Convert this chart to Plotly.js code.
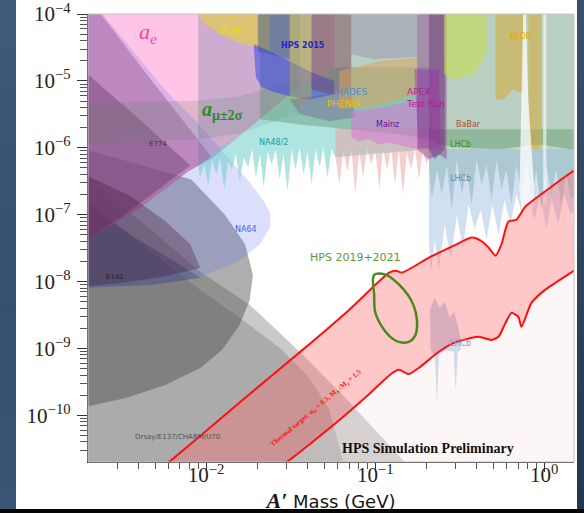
<!DOCTYPE html>
<html>
<head>
<meta charset="utf-8">
<script src="https://cdn.plot.ly/plotly-3.0.1.min.js"></script>
<style>
  html, body { margin:0; padding:0; width:584px; height:513px; overflow:hidden; background:#050505; }
  #leftStrip { position:absolute; left:0; top:0; width:16px; height:509px; background:linear-gradient(180deg,#3f5a7a,#34506e 60%,#3a5675); }
  #rightStrip { position:absolute; left:577px; top:0; width:7px; height:509px; background:linear-gradient(180deg,#3a5070,#24374e); }
  #panel { position:absolute; left:16px; top:0; width:561px; height:509px; background:#ffffff; }
  #chart { position:absolute; left:0; top:0; width:584px; height:513px; }
</style>
</head>
<body>
<div id="leftStrip"></div>
<div id="rightStrip"></div>
<div id="panel"></div>
<div id="chart"></div>
<script>
// ---------------- axis ranges / ticks ----------------
const massRange = [0.002, 1.5];
const epsRange = [2e-11, 1.003e-4];
const xTickVals = [0.01, 0.1, 1];
const xTickText = ['10<sup>−2</sup>', '10<sup>−1</sup>', '10<sup>0</sup>'];
const yTickVals = [1e-10, 1e-9, 1e-8, 1e-7, 1e-6, 1e-5, 1e-4];
const yTickText = ['10<sup>−10</sup>', '10<sup>−9</sup>', '10<sup>−8</sup>', '10<sup>−7</sup>', '10<sup>−6</sup>', '10<sup>−5</sup>', '10<sup>−4</sup>'];

// ---------------- exclusion regions (mass GeV, eps^2) ----------------
const bdLight_m = [1.9e-3, 4.69e-3, 9.22e-3, 1.81e-2, 3.57e-2, 7.03e-2, 0.148, 0.165, 1.9e-3];
const bdLight_e = [4.0e-7, 6.0e-8, 1.40e-8, 4.5e-9, 8.9e-10, 1.58e-10, 2.06e-11, 1.5e-11, 1.5e-11];

const bdMed_m = [1.9e-3, 4.69e-3, 9.22e-3, 1.58e-2, 2.72e-2, 4.09e-2, 5.36e-2, 6.67e-2, 1.9e-3];
const bdMed_e = [1.68e-7, 2.8e-8, 7.5e-9, 2.87e-9, 1.02e-9, 3.6e-10, 1.2e-10, 1.5e-11, 1.5e-11];

const e137_m = [1.9e-3, 4.09e-3, 8.17e-3, 1.29e-2, 1.70e-2, 1.89e-2, 1.81e-2, 1.58e-2, 1.24e-2, 9.22e-3, 5.74e-3, 3.34e-3, 1.9e-3];
const e137_e = [9.5e-7, 5.6e-7, 3.36e-7, 1.0e-7, 3.6e-8, 1.26e-8, 5.3e-9, 2.25e-9, 9.5e-10, 5.1e-10, 2.84e-10, 1.81e-10, 1.33e-10];

const e141_m = [1.9e-3, 3.57e-3, 6.57e-3, 9.22e-3, 4.69e-3, 1.9e-3];
const e141_e = [1.68e-7, 5.0e-8, 1.98e-8, 1.14e-8, 8.9e-9, 8.1e-9];

const e141core_m = [1.9e-3, 3.57e-3, 5.74e-3, 8.05e-3, 9.22e-3, 5.74e-3, 3.12e-3, 1.9e-3];
const e141core_e = [4.0e-7, 1.9e-7, 8.0e-8, 3.6e-8, 1.6e-8, 1.2e-8, 9.5e-9, 8.5e-9];

const ae_m = [1.9e-3, 5.74e-2, 5.74e-2, 3.12e-2, 1.81e-2, 1.06e-2, 7.83e-3, 4.09e-3, 1.9e-3];
const ae_e = [1.2e-4, 1.2e-4, 1.6e-5, 6.3e-6, 2.0e-6, 6.7e-7, 4.43e-7, 1.28e-7, 3.95e-8];

const na64_m = [2.3e-3, 5.74e-3, 8.97e-3, 1.29e-2, 1.81e-2, 2.22e-2, 2.41e-2, 2.38e-2, 2.08e-2, 1.54e-2, 9.22e-3, 4.69e-3, 1.9e-3, 1.9e-3];
const na64_e = [1.2e-4, 7.26e-6, 2.32e-6, 8.0e-7, 3.03e-7, 1.52e-7, 1.0e-7, 6.4e-8, 3.6e-8, 1.98e-8, 1.18e-8, 8.9e-9, 8.1e-9, 1.2e-4];

const e774_m = [1.9e-3, 2.25e-3, 4.69e-3, 8.97e-3, 1.08e-2, 7.83e-3, 4.09e-3, 1.9e-3];
const e774_e = [1.2e-4, 1.2e-4, 1.06e-5, 1.3e-6, 7.2e-7, 4.43e-7, 1.28e-7, 3.95e-8];

const e774in_m = [1.9e-3, 4.09e-3, 8.05e-3, 5.36e-3, 3.12e-3, 1.9e-3];
const e774in_e = [1.4e-5, 2.58e-6, 5.45e-7, 2.55e-7, 9.05e-8, 3.95e-8];

const amu_m = [1.9e-3, 9.22e-3, 1.58e-2, 3.57e-2, 3.57e-2, 1.58e-2, 9.22e-3, 1.9e-3];
const amu_e = [4.6e-6, 5.1e-6, 5.9e-6, 1.06e-5, 3.4e-6, 1.64e-6, 1.34e-6, 1.16e-6];

const mauve_m = [8.97e-3, 3.57e-2, 3.57e-2, 3.12e-2, 1.81e-2, 1.06e-2, 8.97e-3];
const mauve_e = [1.2e-4, 1.2e-4, 7.8e-6, 6.3e-6, 2.0e-6, 6.7e-7, 5.45e-7];

const na48_m = [8.97e-3, 1.81e-2, 3.12e-2, 5.74e-2, 0.208, 0.208,
  5.82e-2, 5.51e-2, 5.22e-2, 4.94e-2, 4.69e-2, 4.44e-2, 4.2e-2, 3.98e-2, 3.77e-2, 3.57e-2, 3.38e-2, 3.2e-2,
  3.03e-2, 2.87e-2, 2.72e-2, 2.58e-2, 2.44e-2, 2.31e-2, 2.19e-2, 2.08e-2, 1.97e-2, 1.87e-2, 1.77e-2, 1.67e-2,
  1.58e-2, 1.5e-2, 1.42e-2, 1.35e-2, 1.28e-2, 1.21e-2, 1.15e-2, 1.08e-2, 1.03e-2, 9.73e-3, 9.22e-3, 8.97e-3];
const na48_e = [5.45e-7, 2.0e-6, 6.3e-6, 1.6e-5, 1.6e-5, 9.5e-7,
  7.2e-7, 9.5e-7, 3.6e-7, 1.01e-6, 5.1e-7, 9.5e-7, 2.83e-7, 8.8e-7, 4.0e-7, 1.01e-6, 4.7e-7, 9.5e-7,
  2.22e-7, 8.0e-7, 3.36e-7, 9.5e-7, 5.6e-7, 8.8e-7, 2.55e-7, 8.0e-7, 3.6e-7, 9.5e-7, 5.1e-7, 7.2e-7,
  3.13e-7, 8.0e-7, 4.7e-7, 6.25e-7, 2.38e-7, 7.2e-7, 4.0e-7, 6.7e-7, 2.83e-7, 5.6e-7, 3.6e-7, 5.1e-7];

const mainzLow_m = [5.82e-2, 0.213, 0.213, 0.202, 0.191, 0.181, 0.172, 0.163, 0.154, 0.146, 0.138, 0.131, 0.124, 0.118,
  0.111, 0.106, 0.1, 9.46e-2, 8.97e-2, 8.49e-2, 8.05e-2, 7.62e-2, 7.22e-2, 6.84e-2, 6.48e-2, 6.14e-2, 5.82e-2];
const mainzLow_e = [2.02e-6, 2.02e-6, 9.5e-7, 5.6e-7, 8.8e-7, 3.36e-7, 1.01e-6, 4.7e-7, 8.8e-7, 2.0e-7, 9.5e-7, 2.83e-7, 1.01e-6, 4.7e-7,
  9.5e-7, 2.38e-7, 9.5e-7, 5.6e-7, 1.01e-6, 3.6e-7, 8.8e-7, 2.0e-7, 1.01e-6, 4.43e-7, 9.5e-7, 2.83e-7, 7.2e-7];

const babar_m = [2.08e-2, 1.58, 1.58, 1.44, 0.922, 0.536, 0.312, 0.238, 0.208, 0.138, 7.03e-2, 3.57e-2, 2.08e-2];
const babar_e = [1.2e-4, 1.2e-4, 9.5e-7, 9.5e-7, 1.12e-6, 9.5e-7, 1.01e-6, 1.12e-6, 1.34e-6, 1.59e-6, 1.89e-6, 2.24e-6, 2.67e-6];

const lhcbG_m = [0.208, 1.58, 1.58, 1.44, 1.35, 1.26, 1.18, 1.1, 1.03, 0.96, 0.897, 0.84, 0.784, 0.733, 0.684, 0.64, 0.597,
  0.558, 0.523, 0.488, 0.456, 0.426, 0.398, 0.372, 0.348, 0.325, 0.304, 0.284, 0.265, 0.248, 0.232, 0.216, 0.208];
const lhcbG_e = [1.89e-6, 1.89e-6, 2.38e-7, 1.68e-7, 4.0e-7, 1.42e-7, 4.7e-7, 2.0e-7, 5.6e-7, 1.19e-7, 4.7e-7, 1.68e-7, 6.7e-7, 2.0e-7, 5.6e-7, 1.42e-7, 4.7e-7,
  2.38e-7, 6.7e-7, 1.68e-7, 5.6e-7, 2.83e-7, 6.7e-7, 1.42e-7, 4.7e-7, 2.0e-7, 6.7e-7, 1.19e-7, 5.6e-7, 2.0e-7, 4.7e-7, 1.68e-7, 5.6e-7];

const lhcbB_m = [0.208, 1.58, 1.58, 1.44, 1.31, 1.21, 1.11, 1.03, 0.947, 0.873, 0.805, 0.743, 0.684, 0.631, 0.582, 0.536,
  0.494, 0.456, 0.421, 0.387, 0.357, 0.33, 0.304, 0.28, 0.258, 0.238, 0.225, 0.213, 0.208];
const lhcbB_e = [9.5e-7, 9.5e-7, 1.42e-7, 1.0e-7, 2.0e-7, 7.1e-8, 1.68e-7, 6.0e-8, 2.0e-7, 8.4e-8, 1.68e-7, 1.0e-7, 2.0e-7, 7.1e-8, 1.68e-7, 5.0e-8,
  1.42e-7, 4.2e-8, 1.19e-7, 6.0e-8, 1.42e-7, 3.0e-8, 1.0e-7, 2.12e-8, 7.1e-8, 1.5e-8, 4.2e-8, 1.26e-8, 4.2e-8];

const lhcbD_m = [0.211, 0.225, 0.241, 0.258, 0.276, 0.292, 0.308, 0.321, 0.321, 0.308, 0.299, 0.292, 0.262, 0.238, 0.232, 0.225, 0.213];
const lhcbD_e = [3.8e-9, 5.7e-9, 4.05e-9, 4.97e-9, 2.87e-9, 3.5e-9, 2.25e-9, 1.34e-9, 9.5e-10, 8.9e-10, 2.23e-10, 8.9e-10, 9.5e-10, 8.0e-10, 1.58e-10, 8.0e-10, 9.5e-10];

const kloeL_m = [8.39e-3, 2.38e-2, 2.38e-2, 1.94e-2, 1.54e-2, 1.21e-2, 9.87e-3];
const kloeL_e = [1.2e-4, 1.2e-4, 2.51e-5, 3.2e-5, 3.8e-5, 5.0e-5, 7.1e-5];

const steel_m = [2.02e-2, 3.12e-2, 3.12e-2, 2.02e-2];
const steel_e = [1.2e-4, 1.2e-4, 2.11e-5, 2.79e-5];

const hps15_m = [1.91e-2, 2.38e-2, 3.12e-2, 4.09e-2, 5.74e-2, 5.74e-2, 4.09e-2, 3.12e-2, 2.55e-2, 2.13e-2, 1.97e-2];
const hps15_e = [3.55e-5, 2.79e-5, 1.97e-5, 1.4e-5, 9.9e-6, 6.3e-6, 5.3e-6, 5.9e-6, 6.8e-6, 8.05e-6, 1.14e-5];

const olive_m = [3.12e-2, 4.2e-2, 4.2e-2, 3.57e-2, 3.12e-2];
const olive_e = [1.2e-4, 1.2e-4, 5.3e-6, 4.5e-6, 5.3e-6];

const brown_m = [4.2e-2, 7.22e-2, 7.22e-2, 5.36e-2, 4.2e-2];
const brown_e = [1.2e-4, 1.2e-4, 7.0e-6, 6.3e-6, 7.5e-6];

const lilac_m = [7.22e-2, 0.177, 0.177, 9.86e-2, 7.22e-2];
const lilac_e = [1.2e-4, 1.2e-4, 2.3e-5, 2.11e-5, 2.51e-5];

const hades_m = [3.12e-2, 7.22e-2, 7.62e-2, 5.36e-2, 3.57e-2];
const hades_e = [5.3e-6, 7.0e-6, 2.86e-6, 2.49e-6, 3.2e-6];

const phenix_m = [6.14e-2, 0.106, 0.177, 0.177, 0.138, 9.22e-2, 6.14e-2];
const phenix_e = [1.4e-5, 1.97e-5, 2.27e-5, 6.3e-6, 5.3e-6, 4.04e-6, 3.8e-6];

const mainz_m = [7.22e-2, 0.113, 0.181, 0.181, 0.158, 0.138, 0.121, 0.106, 9.22e-2, 8.05e-2, 7.22e-2];
const mainz_e = [3.52e-6, 4.04e-6, 5.3e-6, 9.5e-7, 1.01e-6, 1.09e-6, 1.2e-6, 1.12e-6, 1.34e-6, 1.25e-6, 1.43e-6];

const apex_m = [0.177, 0.265, 0.265, 0.238, 0.208, 0.177];
const apex_e = [1.2e-4, 1.2e-4, 6.7e-7, 8.0e-7, 6.7e-7, 9.5e-7];

const apexDark_m = [0.208, 0.258, 0.258, 0.225, 0.208];
const apexDark_e = [1.2e-4, 1.2e-4, 9.5e-7, 6.7e-7, 9.5e-7];

const apexTR_m = [0.17, 0.238, 0.245, 0.181];
const apexTR_e = [1.5e-5, 1.5e-5, 9.5e-7, 1.01e-6];

const ygreen_m = [0.255, 0.456, 0.456, 0.382, 0.292, 0.255];
const ygreen_e = [1.2e-4, 1.2e-4, 2.51e-5, 1.26e-5, 1.06e-5, 1.26e-5];

const kloeR1_m = [0.515, 0.762, 0.762, 0.657, 0.574, 0.515];
const kloeR1_e = [1.2e-4, 1.2e-4, 6.3e-6, 7.5e-6, 5.3e-6, 5.3e-6];
const kloeR2_m = [0.805, 0.96, 0.96, 0.805];
const kloeR2_e = [1.2e-4, 1.2e-4, 9.5e-7, 9.5e-7];

const gap1_m = [0.752, 0.776, 0.805, 0.873, 0.85, 0.743, 0.714, 0.733];
const gap1_e = [1.2e-4, 1.2e-4, 5.3e-6, 2.38e-7, 1.0e-7, 1.0e-7, 2.38e-7, 5.3e-6];
const gap2_m = [0.986, 1.03, 1.03, 0.986];
const gap2_e = [1.2e-4, 1.2e-4, 1.42e-7, 1.42e-7];

// thermal target band
const thermUp_m = [5.36e-3, 9.22e-3, 1.81e-2, 3.72e-2, 7.03e-2, 0.121, 0.133, 0.144, 0.208, 0.292, 0.372, 0.421, 0.469, 0.515, 0.558, 0.614, 0.684, 0.773, 1.01, 1.44, 1.63];
const thermUp_e = [1.56e-11, 4.88e-11, 2.08e-10, 9.5e-10, 3.8e-9, 1.36e-8, 1.45e-8, 1.36e-8, 2.28e-8, 3.44e-8, 4.54e-8, 4.09e-8, 3.21e-8, 2.44e-8, 3.6e-8, 7.9e-8, 8.4e-8, 1.32e-7, 2.22e-7, 4.28e-7, 5.26e-7];
const thermLo_m = [2.65e-2, 3.57e-2, 6.14e-2, 9.22e-2, 0.124, 0.138, 0.158, 0.181, 0.238, 0.292, 0.409, 0.488, 0.536, 0.59, 0.64, 0.703, 0.733, 0.84, 1.01, 1.44, 1.63];
const thermLo_e = [1.56e-11, 2.8e-11, 8.5e-11, 2.08e-10, 4.15e-10, 4.8e-10, 4.15e-10, 5.1e-10, 8.9e-10, 1.21e-9, 1.49e-9, 1.34e-9, 1.49e-9, 2.41e-9, 3.4e-9, 2.96e-9, 2.1e-9, 4.8e-9, 7.5e-9, 1.36e-8, 1.67e-8];

// HPS 2019+2021 projected reach
const hps_m = [9.86e-2, 0.116, 0.133, 0.148, 0.163, 0.174, 0.177, 0.172, 0.158, 0.138, 0.121, 0.108, 0.1, 9.86e-2, 9.86e-2];
const hps_e = [1.26e-8, 1.26e-8, 9.9e-9, 7.5e-9, 5.3e-9, 3.4e-9, 2.1e-9, 1.54e-9, 1.25e-9, 1.25e-9, 1.54e-9, 2.25e-9, 3.5e-9, 6.3e-9, 1.26e-8];

// ---------------- build traces ----------------
function poly(name, m, e, color) {
  return { type:'scatter', mode:'lines', name:name, x:m, y:e, fill:'toself', fillcolor:color,
           line:{width:0, color:'rgba(0,0,0,0)'}, hoverinfo:'skip', showlegend:false };
}
const traces = [
  poly('beam dump', bdLight_m, bdLight_e, 'rgba(150,150,150,0.5)'),
  poly('beam dump 2', bdMed_m, bdMed_e, 'rgba(115,115,115,0.35)'),
  poly('E137', e137_m, e137_e, 'rgba(75,75,75,0.45)'),
  poly('E141', e141_m, e141_e, 'rgba(30,30,60,0.3)'),
  poly('a_e', ae_m, ae_e, 'rgba(255,150,210,0.55)'),
  poly('NA64', na64_m, na64_e, 'rgba(90,110,240,0.22)'),
  poly('E774', e774_m, e774_e, 'rgba(120,40,100,0.3)'),
  poly('E774 core', e774in_m, e774in_e, 'rgba(60,20,70,0.28)'),
  poly('E141 core', e141core_m, e141core_e, 'rgba(70,25,55,0.33)'),
  poly('a_mu', amu_m, amu_e, 'rgba(90,130,90,0.2)'),
  poly('overlap', mauve_m, mauve_e, 'rgba(100,120,160,0.32)'),
  poly('NA48/2', na48_m, na48_e, 'rgba(110,205,200,0.55)'),
  poly('A1 low', mainzLow_m, mainzLow_e, 'rgba(235,160,160,0.5)'),
  poly('BaBar', babar_m, babar_e, 'rgba(100,150,120,0.45)'),
  poly('LHCb', lhcbG_m, lhcbG_e, 'rgba(70,140,90,0.35)'),
  poly('LHCb prompt', lhcbB_m, lhcbB_e, 'rgba(150,185,225,0.45)'),
  poly('LHCb displaced', lhcbD_m, lhcbD_e, 'rgba(150,185,225,0.6)'),
  poly('KLOE', kloeL_m, kloeL_e, 'rgba(235,215,40,0.55)'),
  poly('band', steel_m, steel_e, 'rgba(70,90,150,0.5)'),
  poly('HPS 2015', hps15_m, hps15_e, 'rgba(50,60,235,0.5)'),
  poly('band2', olive_m, olive_e, 'rgba(190,180,70,0.45)'),
  poly('band3', brown_m, brown_e, 'rgba(120,60,80,0.45)'),
  poly('band4', lilac_m, lilac_e, 'rgba(150,140,175,0.45)'),
  poly('HADES', hades_m, hades_e, 'rgba(110,80,150,0.35)'),
  poly('PHENIX', phenix_m, phenix_e, 'rgba(225,160,90,0.5)'),
  poly('Mainz', mainz_m, mainz_e, 'rgba(215,120,215,0.55)'),
  poly('APEX', apex_m, apex_e, 'rgba(140,60,140,0.45)'),
  poly('APEX 2', apexDark_m, apexDark_e, 'rgba(90,30,100,0.35)'),
  poly('APEX TR', apexTR_m, apexTR_e, 'rgba(160,40,170,0.4)'),
  poly('band5', ygreen_m, ygreen_e, 'rgba(200,225,60,0.5)'),
  poly('KLOE 2', kloeR1_m, kloeR1_e, 'rgba(215,165,40,0.5)'),
  poly('KLOE 3', kloeR2_m, kloeR2_e, 'rgba(215,165,40,0.5)'),
  poly('gap', gap1_m, gap1_e, 'rgba(255,255,255,0.75)'),
  poly('gap2', gap2_m, gap2_e, 'rgba(255,255,255,0.6)'),
  poly('below', thermLo_m.concat([1.63, 2.65e-2]), thermLo_e.concat([1.5e-11, 1.5e-11]), 'rgba(250,225,225,0.3)'),
  poly('thermal', thermUp_m.concat(thermLo_m.slice().reverse()), thermUp_e.concat(thermLo_e.slice().reverse()), 'rgba(255,110,110,0.38)'),
  { type:'scatter', mode:'lines', x:thermUp_m, y:thermUp_e, line:{color:'#ff1010', width:2, shape:'spline', smoothing:0.6}, hoverinfo:'skip', showlegend:false },
  { type:'scatter', mode:'lines', x:thermLo_m, y:thermLo_e, line:{color:'#ff1010', width:2, shape:'spline', smoothing:0.6}, hoverinfo:'skip', showlegend:false },
  { type:'scatter', mode:'lines', x:hps_m, y:hps_e, line:{color:'#4a8a1c', width:2.5, shape:'spline', smoothing:1}, hoverinfo:'skip', showlegend:false }
];

// minor tick positions (2..9 x 10^n)
const xMinor = [], yMinor = [];
for (let n = -3; n <= 0; n++) for (let k = 2; k <= 9; k++) { const v = k * Math.pow(10, n); if (v > massRange[0] && v < massRange[1]) xMinor.push(v); }
for (let n = -11; n <= -5; n++) for (let k = 2; k <= 9; k++) { const v = k * Math.pow(10, n); if (v > epsRange[0] && v < epsRange[1]) yMinor.push(v); }

function px(x) { return (x - 88) / 486; }
function py(y) { return (462 - y) / 448; }
function lab(text, x, y, color, size, extra) {
  return Object.assign({ text:text, x:px(x), y:py(y), xref:'paper', yref:'paper', showarrow:false,
    font:{family:'DejaVu Sans', size:size, color:color}, xanchor:'center', yanchor:'middle' }, extra || {});
}
const annotations = [
  lab('<i>a</i><sub><i>e</i></sub>', 148, 33, '#ff3aa8', 20, {font:{family:'Liberation Serif', size:22, color:'#ff3aa8'}}),
  lab('KLOE', 232, 32, '#ece000', 8),
  lab('<b>HPS 2015</b>', 303, 46, '#2424c8', 8),
  lab('HADES', 352, 92, '#3a92d8', 9),
  lab('PHENIX', 343, 104, '#e8c400', 9),
  lab('APEX', 418, 92, '#b0208c', 9),
  lab('Test Run', 425, 104, '#b0208c', 9),
  lab('Mainz', 387, 125, '#6a1096', 8),
  lab('BaBar', 468, 124, '#b04a2a', 8),
  lab('LHCb', 460, 144, '#1e9a1e', 8),
  lab('LHCb', 460, 178, '#5a86c4', 8),
  lab('LHCb', 460, 343, '#7a98d4', 8),
  lab('KLOE', 520, 37, '#e8a400', 8),
  lab('<b><i>a</i><sub>μ±2σ</sub></b>', 222, 111, '#2a8a2a', 18, {font:{family:'Liberation Serif', size:20, color:'#2a8a2a'}}),
  lab('NA48/2', 273, 142, '#14a0a0', 8),
  lab('E774', 158, 144, '#333333', 7),
  lab('NA64', 246, 230, '#4464e4', 8),
  lab('E141', 115, 277, '#222222', 7),
  lab('Orsay/E137/CHARM/U70', 177, 437, '#505050', 7),
  lab('HPS 2019+2021', 355, 257, '#5a9a3a', 11),
  lab('<b>HPS Simulation Preliminary</b>', 428, 448, '#111111', 13, {font:{family:'Liberation Serif', size:14, color:'#111111'}}),
  lab('<b>Thermal target: α<sub>D</sub> = 0.5, M<sub>A′</sub>/M<sub>χ</sub> = 1.5</b>', 316, 408, '#ff1010', 6,
      {textangle:-40, font:{family:'Liberation Serif', size:7, color:'#ff1010'}})
];

const layout = {
  width:584, height:513,
  margin:{l:88, r:10, t:14, b:51, pad:0},
  paper_bgcolor:'rgba(0,0,0,0)',
  plot_bgcolor:'#ffffff',
  showlegend:false,
  xaxis:{
    type:'log', range:[Math.log10(massRange[0]), Math.log10(massRange[1])],
    tickmode:'array', tickvals:xTickVals, ticktext:xTickText,
    ticks:'outside', ticklen:9, tickwidth:1, tickcolor:'#333',
    minor:{tickmode:'array', tickvals:xMinor, ticks:'outside', ticklen:6, tickwidth:1, tickcolor:'#555', showgrid:false},
    showline:true, linecolor:'#222', linewidth:1.2, showgrid:false, zeroline:false, mirror:false,
    tickfont:{family:'Liberation Serif', size:21, color:'#222'},
    ticklabelstandoff:-15, ticklabeloverflow:'allow',
    title:{text:'<span style="font-family:Liberation Serif;font-size:22px"><b><i>A′</i></b></span> Mass (GeV)',
           font:{family:'DejaVu Sans', size:18, color:'#151515'}, standoff:11},
    automargin:false
  },
  yaxis:{
    type:'log', range:[Math.log10(epsRange[0]), Math.log10(epsRange[1])],
    tickmode:'array', tickvals:yTickVals, ticktext:yTickText,
    ticks:'outside', ticklen:10, tickwidth:1, tickcolor:'#333',
    minor:{tickmode:'array', tickvals:yMinor, ticks:'outside', ticklen:7, tickwidth:1, tickcolor:'#555', showgrid:false},
    showline:true, linecolor:'#222', linewidth:1.2, showgrid:false, zeroline:false, mirror:false,
    tickfont:{family:'Liberation Serif', size:21, color:'#222'},
    ticklabelstandoff:2, ticklabeloverflow:'allow',
    automargin:false
  },
  shapes:[
    {type:'rect', xref:'paper', yref:'paper', x0:0, x1:1, y0:0, y1:1, line:{color:'#c4c4c4', width:1}, layer:'above'}
  ],
  annotations:annotations
};

Plotly.newPlot('chart', traces, layout, {staticPlot:true, displayModeBar:false});
</script>
</body>
</html>
